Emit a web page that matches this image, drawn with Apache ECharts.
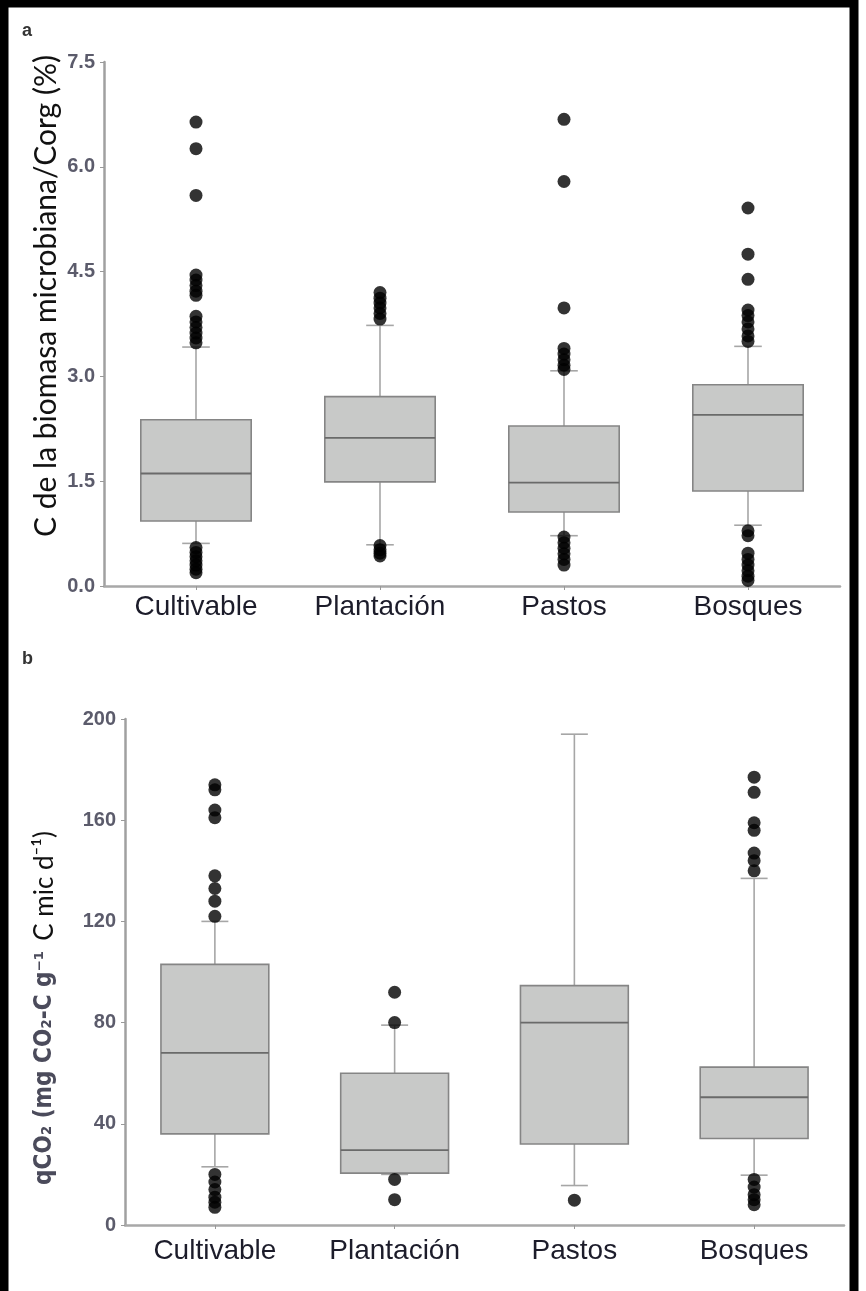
<!DOCTYPE html>
<html>
<head>
<meta charset="utf-8">
<script src="https://cdn.jsdelivr.net/npm/echarts@6/dist/echarts.min.js"></script>
<style>
html,body{margin:0;padding:0;background:#fff;}
#chart{width:866px;height:1291px;}
</style>
</head>
<body>
<div id="chart"></div>
<script>
// ---------- data ----------
const categories = ['Cultivable', 'Plantación', 'Pastos', 'Bosques'];

// panel a: [lower whisker, Q1, median, Q3, upper whisker]
const boxA = [
  [0.61, 0.93, 1.61, 2.38, 3.42],
  [0.59, 1.49, 2.12, 2.71, 3.73],
  [0.72, 1.06, 1.48, 2.29, 3.08],
  [0.87, 1.36, 2.45, 2.88, 3.43]
];
const outliersA = [
  [6.64, 6.26, 5.59, 4.45, 4.38, 4.30, 4.22, 4.16, 3.86, 3.78, 3.70, 3.62, 3.55, 3.48, 0.55, 0.48, 0.42, 0.36, 0.30, 0.24, 0.19],
  [4.20, 4.12, 4.05, 3.98, 3.90, 3.82, 0.58, 0.52, 0.47, 0.43],
  [6.68, 5.79, 3.98, 3.40, 3.32, 3.24, 3.16, 3.10, 0.70, 0.62, 0.54, 0.46, 0.38, 0.30],
  [5.41, 4.75, 4.39, 3.95, 3.87, 3.78, 3.68, 3.58, 3.50, 0.79, 0.72, 0.47, 0.38, 0.30, 0.22, 0.14, 0.08]
];
const ticksA = [0.0, 1.5, 3.0, 4.5, 6.0, 7.5];

// panel b
const boxB = [
  [23, 36, 68, 103, 120],
  [20, 20.5, 29.6, 60, 79],
  [15.6, 32, 80, 94.6, 194],
  [19.7, 34.2, 50.5, 62.4, 137]
];
const outliersB = [
  [174, 172, 164, 161, 138, 133, 128, 122, 20, 17, 14, 11, 9, 7],
  [92, 80, 18, 10],
  [9.8],
  [177, 171, 159, 156, 147, 144, 140, 18, 15, 12, 10, 8]
];
const ticksB = [0, 40, 80, 120, 160, 200];

// ---------- build ----------
function boxData(arr) { return arr.map((b, i) => [i].concat(b)); }
function outData(arr) {
  const out = [];
  arr.forEach((vals, i) => vals.forEach(v => out.push([i, v])));
  return out;
}
function renderBox(params, api) {
  const x = api.value(0);
  const lo = api.coord([x, api.value(1)]);
  const q1 = api.coord([x, api.value(2)]);
  const med = api.coord([x, api.value(3)]);
  const q3 = api.coord([x, api.value(4)]);
  const hi = api.coord([x, api.value(5)]);
  const band = api.size([1, 0])[0];
  const bw = band * 0.6;
  const cw = band * 0.15;
  const cx = lo[0];
  const wStyle = { stroke: '#a6a6a6', lineWidth: 1.6 };
  return {
    type: 'group',
    children: [
      { type: 'line', shape: { x1: cx, y1: hi[1], x2: cx, y2: q3[1] }, style: wStyle },
      { type: 'line', shape: { x1: cx, y1: q1[1], x2: cx, y2: lo[1] }, style: wStyle },
      { type: 'line', shape: { x1: cx - cw / 2, y1: hi[1], x2: cx + cw / 2, y2: hi[1] }, style: wStyle },
      { type: 'line', shape: { x1: cx - cw / 2, y1: lo[1], x2: cx + cw / 2, y2: lo[1] }, style: wStyle },
      { type: 'rect', shape: { x: cx - bw / 2, y: q3[1], width: bw, height: q1[1] - q3[1] },
        style: { fill: '#c8c9c8', stroke: '#858585', lineWidth: 1.6 } },
      { type: 'line', shape: { x1: cx - bw / 2, y1: med[1], x2: cx + bw / 2, y2: med[1] },
        style: { stroke: '#6a6a6a', lineWidth: 1.8 } }
    ]
  };
}

const tickLabelStyle = { fontFamily: 'Liberation Sans, Arial, sans-serif', fontWeight: 'bold', fontSize: 20, color: '#5b5b6b' };
const catLabelStyle = { fontFamily: 'Liberation Sans, Arial, sans-serif', fontSize: 28, color: '#1c1c2a' };

function xAxisCfg(idx, margin) {
  return {
    type: 'category', gridIndex: idx, data: categories,
    axisLine: { show: true, lineStyle: { color: '#a8a8a8', width: 2.5 } },
    axisTick: { show: true, alignWithLabel: true, length: 4, lineStyle: { color: '#999' } },
    axisLabel: Object.assign({ margin: margin }, catLabelStyle),
    splitLine: { show: false }
  };
}
function yAxisCfg(idx, ticks, fmt) {
  return {
    type: 'value', gridIndex: idx,
    min: ticks[0], max: ticks[ticks.length - 1], interval: ticks[1] - ticks[0],
    axisLine: { show: true, lineStyle: { color: '#a0a0a0', width: 2.5 } },
    axisTick: { show: true, length: 4, lineStyle: { color: '#999' } },
    axisLabel: Object.assign({ margin: 9, formatter: fmt }, tickLabelStyle),
    splitLine: { show: false }
  };
}

const chart = echarts.init(document.getElementById('chart'), null, { renderer: 'canvas' });
chart.setOption({
  backgroundColor: '#ffffff',
  animation: false,
  grid: [
    { left: 104, right: 26, top: 62, height: 524 },
    { left: 125, right: 22, top: 719, height: 506 }
  ],
  xAxis: [xAxisCfg(0, 7), xAxisCfg(1, 12)],
  yAxis: [
    yAxisCfg(0, ticksA, v => v.toFixed(1)),
    yAxisCfg(1, ticksB, v => String(v))
  ],
  series: [
    { type: 'custom', xAxisIndex: 0, yAxisIndex: 0, renderItem: renderBox,
      encode: { x: 0, y: [1, 2, 3, 4, 5] }, data: boxData(boxA), z: 2 },
    { type: 'scatter', xAxisIndex: 0, yAxisIndex: 0, data: outData(outliersA),
      symbol: 'circle', symbolSize: 13, itemStyle: { color: '#000' }, z: 3 },
    { type: 'custom', xAxisIndex: 1, yAxisIndex: 1, renderItem: renderBox,
      encode: { x: 0, y: [1, 2, 3, 4, 5] }, data: boxData(boxB), z: 2 },
    { type: 'scatter', xAxisIndex: 1, yAxisIndex: 1, data: outData(outliersB),
      symbol: 'circle', symbolSize: 13, itemStyle: { color: '#000' }, z: 3 }
  ],
  graphic: [
    { type: 'rect', shape: { x: 4, y: 3, width: 850, height: 1300 },
      style: { fill: 'none', stroke: '#000', lineWidth: 9 }, z: 10 },
    { type: 'text', left: 22, top: 22,
      style: { text: 'a', font: 'bold 18px "Liberation Sans", Arial, sans-serif', fill: '#333' } },
    { type: 'text', left: 22, top: 650,
      style: { text: 'b', font: 'bold 18px "Liberation Sans", Arial, sans-serif', fill: '#333' } },
    { type: 'text', x: 46, y: 296, rotation: Math.PI / 2,
      style: { text: 'C de la biomasa microbiana/Corg (%)', font: '30px Lato, "Open Sans", sans-serif',
        fill: '#111', textAlign: 'center', textVerticalAlign: 'middle' } },
    { type: 'text', x: 45, y: 1008, rotation: Math.PI / 2,
      style: {
        text: '{q|qCO₂ (mg CO₂-C g⁻¹}   {c|C mic d⁻¹)}',
        textAlign: 'center', textVerticalAlign: 'middle',
        rich: {
          q: { font: 'bold 24px "DejaVu Sans Condensed", "Liberation Sans", sans-serif', fill: '#4b4b5b' },
          c: { font: '26px Lato, "Noto Sans", sans-serif', fill: '#111' }
        }
      } }
  ]
});
</script>
</body>
</html>
